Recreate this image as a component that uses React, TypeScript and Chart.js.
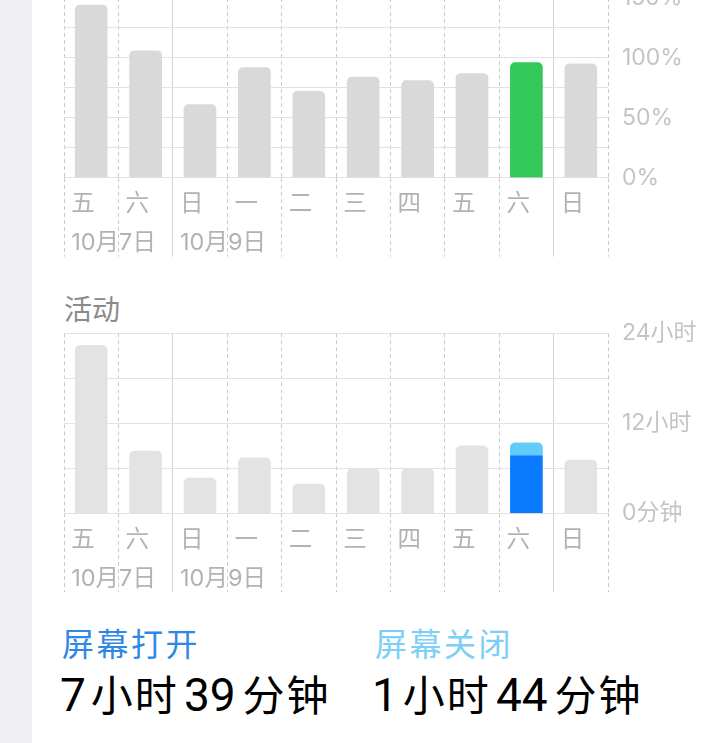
import React, { useEffect, useRef } from "react";
import { Chart, registerables } from "chart.js";

Chart.register(...registerables);

// ---------- data ----------
const weekdays = ["五", "六", "日", "一", "二", "三", "四", "五", "六", "日"];
const dates = ["10月7日", "", "10月9日", "", "", "", "", "", "", ""];

const batteryPct = [144, 106, 61, 92, 72, 84, 81, 87, 96, 95];
const batteryHighlight = 8;
const batteryTickLabels = ["0%", "50%", "100%", "150%"];

const activityOther = [22.4, 8.3, 4.7, 7.4, 3.9, 5.95, 5.95, 9.0, null, 7.1];
const activityScreenOn = [null, null, null, null, null, null, null, null, 7.65, null];
const activityScreenOff = [null, null, null, null, null, null, null, null, 1.73, null];
const activityTickLabels = ["0分钟", "12小时", "24小时"];

const legendNames = ["屏幕打开", "屏幕关闭"];
const legendHours = [7, 1];
const legendMinutes = [39, 44];

// ---------- styles ----------
const FONT = '"Inter", "Noto Sans CJK SC", sans-serif';
const CJK = '"Noto Sans CJK SC", sans-serif';
const GRID_H = "#e2e2e2";
const GRID_DASH = "#cbcbcb";
const GRID_SOLID = "#d3d3d3";
const X_LABEL = "#b2b2b2";
const Y_LABEL = "#c4c4c4";
const BAR_GRAY_TOP = "#d9d9d9";
const BAR_GRAY_BOTTOM = "#e3e3e3";
const GREEN = "#34c759";
const BLUE = "#0a7bff";
const LIGHT_BLUE = "#62cbf9";
const LEGEND_BLUE = "#2f88e8";
const LEGEND_LIGHT = "#7ccff5";

const isSolid = (i: any) => typeof i === "number" && weekdays[i] === "日";

function xScale(axisHeight: number) {
  return {
    type: "category",
    offset: true,
    grid: {
      offset: true,
      drawOnChartArea: true,
      drawTicks: true,
      tickLength: 79,
      lineWidth: 1,
      tickWidth: 1,
      color: (ctx: any) => (isSolid(ctx.index) ? GRID_SOLID : GRID_DASH),
      tickColor: (ctx: any) => (isSolid(ctx.index) ? GRID_SOLID : GRID_DASH),
      tickBorderDash: (ctx: any) => (isSolid(ctx.index) ? [] : [4, 3]),
    },
    border: {
      display: false,
      dash: (ctx: any) => (isSolid(ctx.index) ? [] : [4, 3]),
    },
    ticks: {
      autoSkip: false,
      maxRotation: 0,
      minRotation: 0,
      align: "start",
      crossAlign: "near",
      labelOffset: -20,
      padding: -72,
      color: X_LABEL,
      font: { family: FONT, size: 23.5, lineHeight: "39px" },
    },
    afterFit: (s: any) => {
      s.height = axisHeight;
    },
  };
}

function yScale(max: number, step: number, labelStep: number, labels: string[], stacked: boolean) {
  return {
    position: "right",
    min: 0,
    max,
    stacked,
    grid: { color: GRID_H, drawTicks: false, lineWidth: 1 },
    border: { display: false },
    ticks: {
      autoSkip: false,
      stepSize: step,
      padding: 14,
      color: Y_LABEL,
      font: { family: FONT, size: 23 },
      callback: (v: any) => {
        const n = Number(v);
        return n % labelStep === 0 ? labels[n / labelStep] : "";
      },
    },
    afterFit: (s: any) => {
      s.width = 110;
    },
  };
}

const labels = weekdays.map((w, i) => [w, dates[i]]);

function Duration({ h, m }: { h: number; m: number }) {
  const num = { fontFamily: "Roboto, sans-serif", fontSize: 46 } as const;
  const unit = { fontFamily: CJK, fontSize: 42, letterSpacing: 2 } as const;
  return (
    <span style={{ whiteSpace: "nowrap" }}>
      <span style={num}>{h}</span>
      <span style={{ ...unit, marginLeft: 5, marginRight: 5 }}>小时</span>
      <span style={num}>{m}</span>
      <span style={{ ...unit, marginLeft: 7 }}>分钟</span>
    </span>
  );
}

export default function App() {
  const topRef = useRef<HTMLCanvasElement | null>(null);
  const botRef = useRef<HTMLCanvasElement | null>(null);

  useEffect(() => {
    const common = {
      responsive: false,
      animation: false,
      plugins: { legend: { display: false }, tooltip: { enabled: false } },
    };

    const top = new Chart(topRef.current as HTMLCanvasElement, {
      type: "bar",
      data: {
        labels,
        datasets: [
          {
            data: batteryPct,
            backgroundColor: batteryPct.map((_, i) => (i === batteryHighlight ? GREEN : BAR_GRAY_TOP)),
            barThickness: 32,
            borderRadius: 5,
            borderSkipped: "start",
          },
        ],
      },
      options: {
        ...common,
        layout: { padding: { left: 64, top: 38, right: 0, bottom: 0 } },
        scales: {
          x: xScale(82.3) as any,
          y: yScale(150, 25, 50, batteryTickLabels, false) as any,
        },
      } as any,
    });

    const bot = new Chart(botRef.current as HTMLCanvasElement, {
      type: "bar",
      data: {
        labels,
        datasets: [
          {
            data: activityOther,
            backgroundColor: BAR_GRAY_BOTTOM,
            barThickness: 32,
            borderRadius: 5,
            borderSkipped: "start",
          },
          {
            data: activityScreenOn,
            backgroundColor: BLUE,
            barThickness: 32,
            borderRadius: 0,
          },
          {
            data: activityScreenOff,
            backgroundColor: LIGHT_BLUE,
            barThickness: 32,
            borderRadius: { topLeft: 5, topRight: 5, bottomLeft: 0, bottomRight: 0 },
            borderSkipped: "start",
          },
        ],
      },
      options: {
        ...common,
        layout: { padding: { left: 64, top: 33.3, right: 0, bottom: 0 } },
        scales: {
          x: { ...(xScale(86.7) as any), stacked: true },
          y: yScale(24, 6, 12, activityTickLabels, true) as any,
        },
      } as any,
    });

    return () => {
      top.destroy();
      bot.destroy();
    };
  }, []);

  return (
    <div
      style={{
        position: "fixed",
        left: 0,
        top: 0,
        width: 718,
        height: 743,
        overflow: "hidden",
        background: "#ffffff",
        fontFamily: FONT,
      }}
    >
      <div style={{ position: "absolute", left: 0, top: 0, width: 32, height: 743, background: "#efeff4" }} />
      <canvas
        ref={topRef}
        width={718}
        height={300}
        style={{ position: "absolute", left: 0, top: -40, width: 718, height: 300 }}
      />
      <div
        style={{
          position: "absolute",
          left: 64,
          top: 292,
          fontSize: 28,
          lineHeight: "32px",
          color: "#8a8a8a",
          fontFamily: CJK,
        }}
      >
        活动
      </div>
      <canvas
        ref={botRef}
        width={718}
        height={300}
        style={{ position: "absolute", left: 0, top: 300, width: 718, height: 300 }}
      />
      {[0, 1].map((i) => (
        <React.Fragment key={i}>
          <div
            style={{
              position: "absolute",
              left: i === 0 ? 62 : 375,
              top: 622,
              fontSize: 32,
              lineHeight: "40px",
              letterSpacing: 2.5,
              color: i === 0 ? LEGEND_BLUE : LEGEND_LIGHT,
              fontFamily: CJK,
              whiteSpace: "nowrap",
            }}
          >
            {legendNames[i]}
          </div>
          <div
            style={{
              position: "absolute",
              left: i === 0 ? 60 : 372,
              top: 668,
              lineHeight: "50px",
              color: "#000000",
            }}
          >
            <Duration h={legendHours[i]} m={legendMinutes[i]} />
          </div>
        </React.Fragment>
      ))}
    </div>
  );
}
